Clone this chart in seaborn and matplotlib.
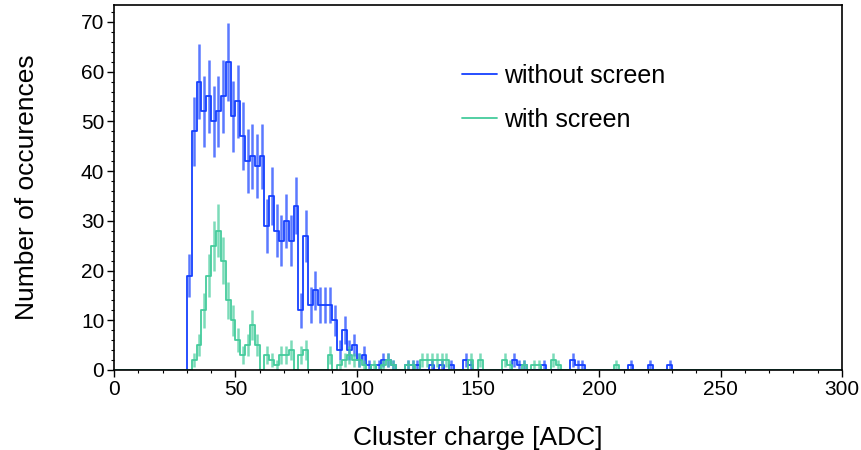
import numpy as np
import pandas as pd
import matplotlib
matplotlib.use("Agg")
import matplotlib.pyplot as plt
import matplotlib.ticker as ticker
from matplotlib.lines import Line2D
import seaborn as sns

# histogram binning: 2 ADC wide bins from 0 to 300
bin_width = 2
x_max = 300

# "without screen": counts per bin starting at 30 ADC
blue_start = 30
blue_main = [19, 48, 58, 52, 55, 50, 52, 55, 62, 51,
             54, 47, 42, 43, 41, 43, 29, 35, 28, 26,
             30, 26, 33, 12, 27, 13, 16, 13, 13, 13,
             10, 4, 8, 4, 5, 2, 3, 1, 0, 1,
             2, 2, 1]
blue_tail_x = [120, 122, 124, 130, 134, 138, 144, 146, 164, 166, 168, 176, 188, 190, 192, 212, 220, 228]
blue_tail_n = [1, 1, 1, 1, 1, 1, 2, 1, 2, 1, 1, 1, 2, 1, 1, 1, 1, 1]

# "with screen"
green_start = 30
green_main = [0, 2, 5, 12, 19, 25, 28, 22, 14, 10,
              6, 3, 5, 9, 5, 0, 3, 2, 1, 3,
              3, 4, 0, 3, 4, 0, 0, 0, 0, 3,
              0, 1, 2, 3, 2, 2, 1, 0, 1, 0,
              1, 2, 1]
green_tail_x = [120, 122, 126, 128, 130, 132, 134, 136, 146, 150, 160, 162, 168, 172, 174, 180, 182, 206]
green_tail_n = [1, 1, 2, 2, 2, 2, 2, 2, 2, 2, 2, 1, 1, 1, 1, 2, 1, 1]

blue_color = "#1540ff"
green_color = "#44cc9c"

edges = np.arange(0, x_max + bin_width, bin_width)
centers = edges[:-1] + bin_width / 2


def build_counts(start, main, tail_x, tail_n):
    counts = np.zeros(len(centers))
    i0 = start // bin_width
    counts[i0:i0 + len(main)] = main
    for x, n in zip(tail_x, tail_n):
        counts[x // bin_width] = n
    return counts


blue_counts = build_counts(blue_start, blue_main, blue_tail_x, blue_tail_n)
green_counts = build_counts(green_start, green_main, green_tail_x, green_tail_n)

sns.set_style("white")
plt.rcParams["font.family"] = ["Liberation Sans", "DejaVu Sans"]
plt.rcParams["text.color"] = "black"

fig = plt.figure(figsize=(8.62, 4.5), dpi=100)
ax = fig.add_axes([0.1323, 0.1778, 0.8445, 0.8111])

for counts, color in [(blue_counts, blue_color), (green_counts, green_color)]:
    df = pd.DataFrame({"center": centers, "count": counts})
    sns.histplot(data=df, x="center", weights="count", binwidth=bin_width,
                 binrange=(0, x_max), element="step", fill=False, color=color,
                 linewidth=1.3, ax=ax)
    nz = counts > 0
    ax.errorbar(centers[nz], counts[nz], yerr=np.sqrt(counts[nz]), fmt="none",
                ecolor=color, elinewidth=1.8, alpha=0.7)

ax.set_xlim(0, 300)
ax.set_ylim(0, 73.4)
ax.xaxis.set_major_locator(ticker.MultipleLocator(50))
ax.xaxis.set_minor_locator(ticker.MultipleLocator(10))
ax.yaxis.set_major_locator(ticker.MultipleLocator(10))
ax.yaxis.set_minor_locator(ticker.MultipleLocator(2))
ax.tick_params(which="major", direction="out", length=5, width=1, labelsize=15,
               colors="black", bottom=True, left=True, top=False, right=False, pad=2)
ax.tick_params(which="minor", direction="out", length=2.5, width=0.8, colors="black",
               bottom=True, left=True, top=False, right=False)
for sp in ax.spines.values():
    sp.set_color("black")
    sp.set_linewidth(1.2)

ax.set_xlabel("Cluster charge [ADC]", fontsize=19, labelpad=20, color="black")
ax.set_ylabel("Number of occurences", fontsize=19, labelpad=30, color="black")

handles = [Line2D([], [], color=blue_color, linewidth=1.3),
           Line2D([], [], color=green_color, linewidth=1.3)]
ax.legend(handles, ["without screen", "with screen"], loc="upper left",
          bbox_to_anchor=(0.464, 0.867), borderaxespad=0, frameon=False, fontsize=18,
          handlelength=1.4, handletextpad=0.3, labelspacing=0.8, labelcolor="black")

fig.savefig("out.png", dpi=100)
